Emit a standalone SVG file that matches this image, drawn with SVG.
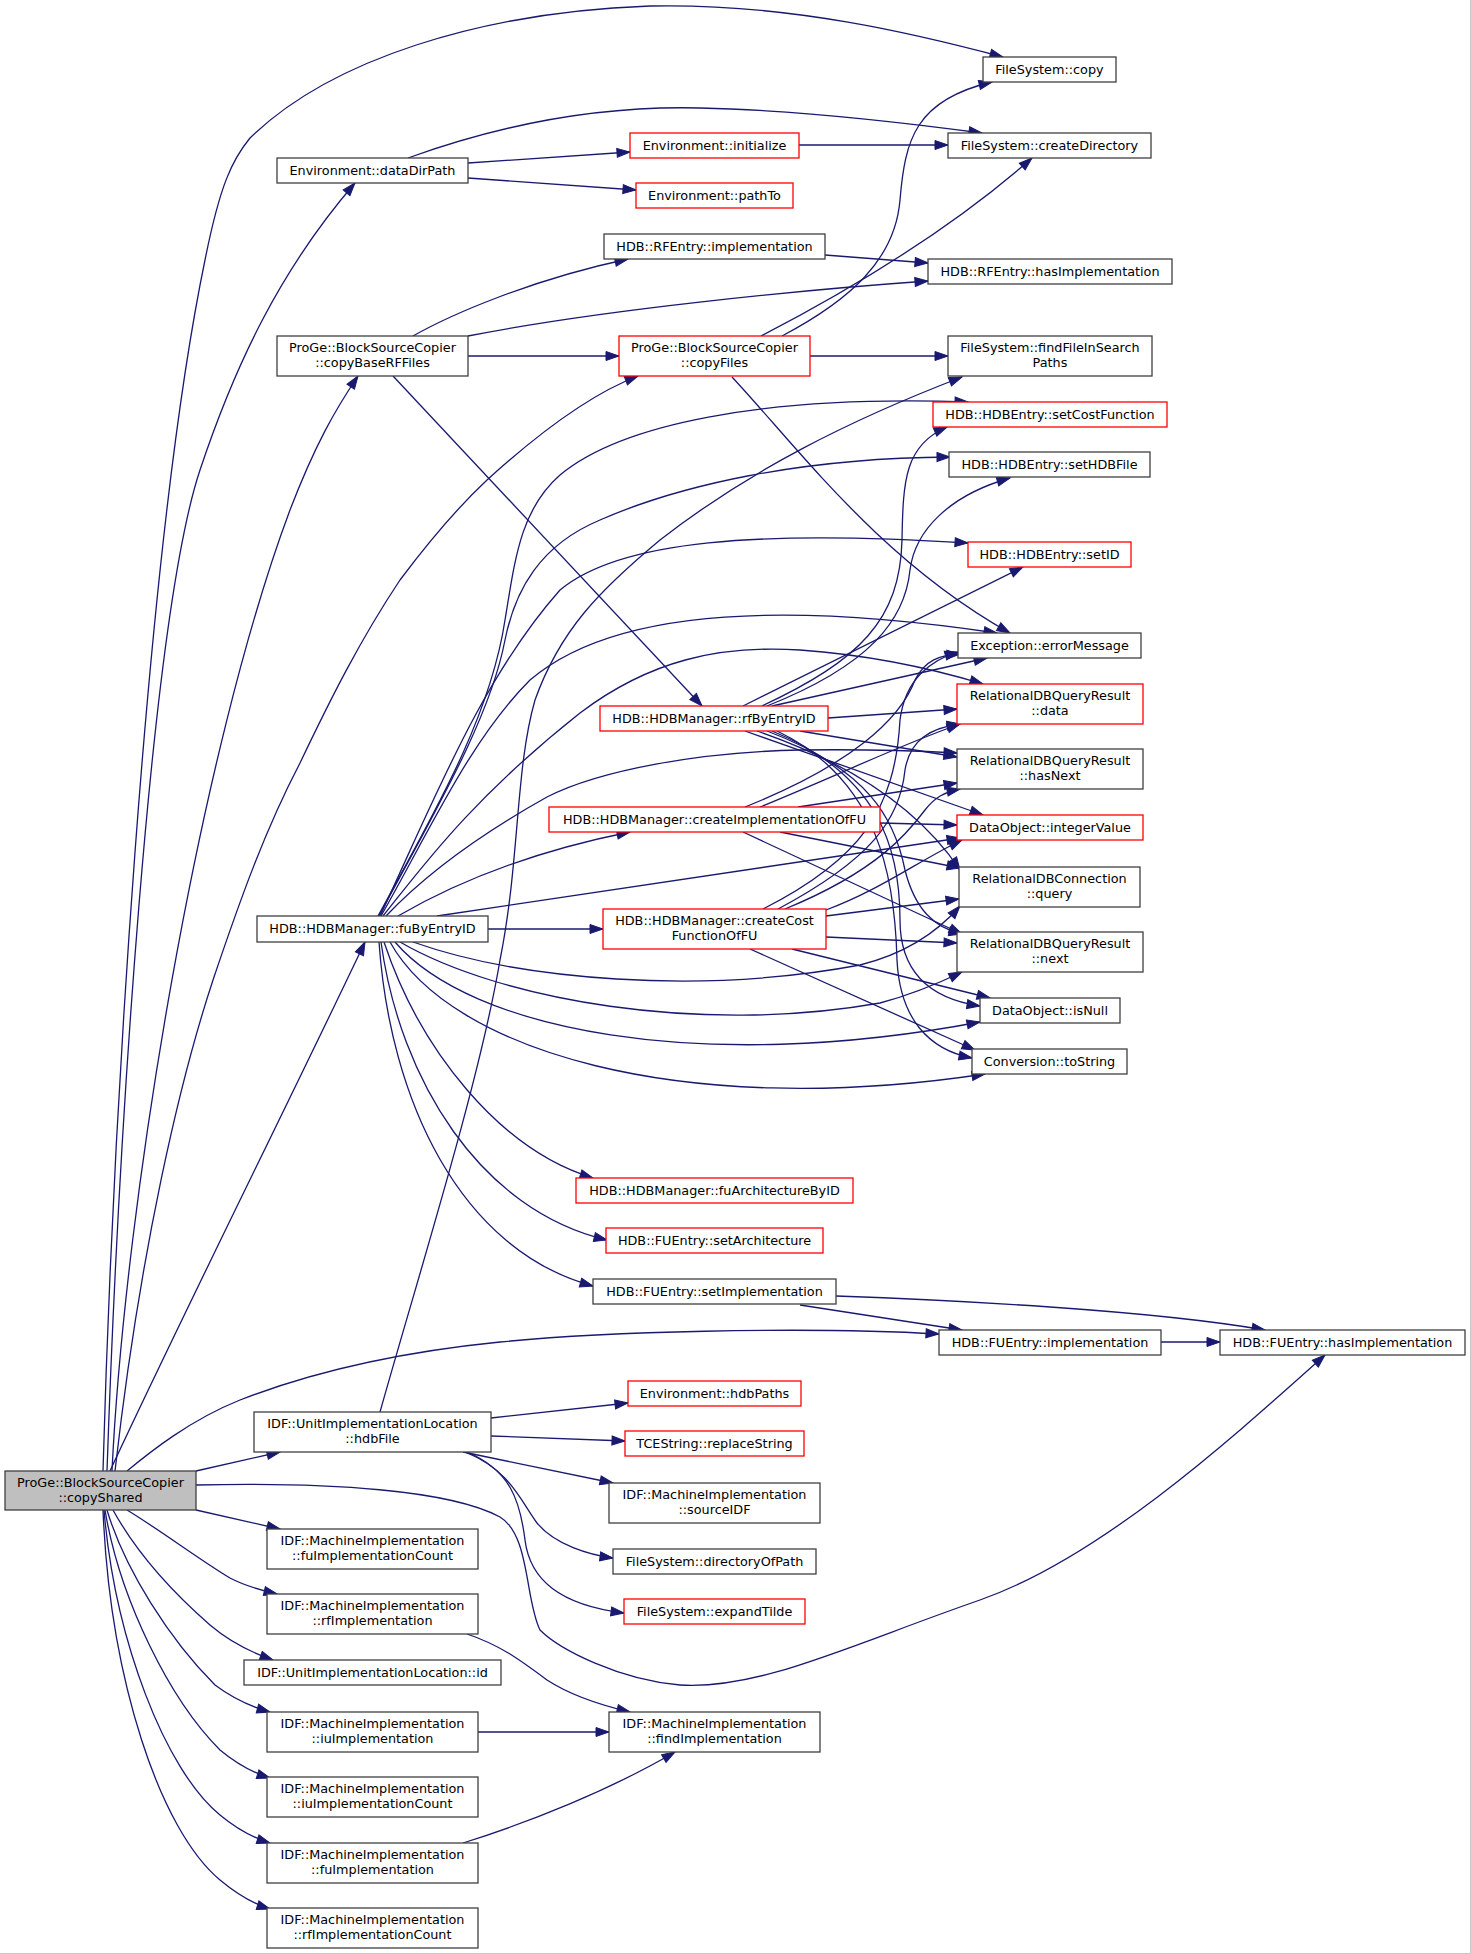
<svg xmlns="http://www.w3.org/2000/svg" width="1471" height="1954" viewBox="0 0 1471 1954">
<defs>
<marker id="a" markerUnits="userSpaceOnUse" markerWidth="15" markerHeight="11" refX="13" refY="5" orient="auto" overflow="visible">
<path d="M0,0.5 L13,5 L0,9.5 z" fill="#191970" stroke="#191970" stroke-width="1"/>
</marker>
<style>
.n rect{fill:#ffffff;stroke:#404040;stroke-width:1.3}
.r rect{fill:#ffffff;stroke:#ff0000;stroke-width:1.3}
.root rect{fill:#bfbfbf;stroke:#404040;stroke-width:1.3}
text{font-family:"DejaVu Sans","Liberation Sans",sans-serif;font-size:12.8px;fill:#000000;text-anchor:middle}
#edges path{fill:none;stroke:#191970;stroke-width:1.3;marker-end:url(#a)}
</style>
</defs>
<rect x="0" y="0" width="1471" height="1954" fill="#ffffff"/>
<line x1="1470.5" y1="0" x2="1470.5" y2="1954" stroke="#c8c8c8" stroke-width="1"/>
<line x1="0" y1="1953.5" x2="1471" y2="1953.5" stroke="#c8c8c8" stroke-width="1"/>
<g id="edges">
<path d="M103,1471 C112,1150 145,550 205,260 C220,185 232,160 250,138 C330,60 480,12 650,6 C790,3 920,35 1003,57"/>
<path d="M107,1471 C118,1150 150,620 200,470 C235,365 280,270 355,183"/>
<path d="M112,1471 C125,1200 200,750 290,510 C315,445 335,410 358,376"/>
<path d="M115,1471 C140,1250 180,1080 213,980 C240,900 265,830 300,763 C330,700 360,640 400,580 C430,540 455,510 487,480 C520,450 580,398 638,376"/>
<path d="M110,1471 C180,1320 290,1100 365,942"/>
<path d="M127,1471 C150,1452 190,1420 240,1400 C330,1365 420,1350 500,1342 C600,1332 800,1326 939,1334"/>
<path d="M196,1471 L280,1452"/>
<path d="M196,1485 C330,1482 450,1490 500,1517 C530,1535 525,1600 540,1630 C560,1650 620,1680 680,1685 C760,1690 850,1645 980,1600 C1100,1558 1230,1440 1325,1355"/>
<path d="M196,1510 L280,1529"/>
<path d="M127,1510 C160,1530 200,1560 230,1578 C245,1586 260,1590 277,1594"/>
<path d="M113,1510 C135,1550 170,1590 210,1625 C230,1642 250,1652 273,1660"/>
<path d="M107,1510 C125,1570 170,1640 215,1685 C235,1700 252,1707 270,1712"/>
<path d="M105,1510 C120,1600 170,1700 220,1750 C238,1765 254,1773 270,1778"/>
<path d="M104,1510 C115,1640 165,1770 220,1815 C238,1830 254,1838 270,1843"/>
<path d="M103,1510 C110,1680 160,1830 220,1880 C238,1895 254,1904 270,1909"/>
<path d="M408,158 C480,132 580,105 700,108 C800,110 900,122 982,133"/>
<path d="M468,163 L630,152"/>
<path d="M468,178 L636,190"/>
<path d="M799,145 L948,145"/>
<path d="M413,336 C450,315 530,280 628,259"/>
<path d="M468,336 C600,310 800,290 928,281"/>
<path d="M468,356 L619,356"/>
<path d="M393,376 L702,706"/>
<path d="M825,255 L928,263"/>
<path d="M782,336 C850,300 895,260 900,200 C905,140 915,100 992,82"/>
<path d="M761,336 C850,290 950,230 1032,158"/>
<path d="M810,356 L948,356"/>
<path d="M732,377 C800,450 880,560 1010,633"/>
<path d="M762,706 C860,660 900,620 902,540 C903,480 905,445 947,427"/>
<path d="M767,706 C870,665 905,620 910,570 C915,530 950,495 1010,478"/>
<path d="M743,706 L1023,567"/>
<path d="M772,706 L987,658"/>
<path d="M828,718 L957,709"/>
<path d="M800,731 L957,757"/>
<path d="M745,731 L983,815"/>
<path d="M757,731 C850,763 920,810 960,870"/>
<path d="M767,731 C870,770 895,820 905,870 C915,910 935,928 962,934"/>
<path d="M772,731 C880,775 900,850 900,920 C900,980 940,1000 980,1006"/>
<path d="M777,731 C880,780 895,880 897,960 C900,1020 930,1050 972,1058"/>
<path d="M378,916 C430,820 490,720 505,620 C515,560 520,510 560,475 C620,425 760,395 968,402"/>
<path d="M379,916 C430,820 490,720 505,640 C515,590 540,545 600,520 C680,485 800,458 950,457"/>
<path d="M380,916 C430,810 480,680 560,590 C620,540 760,530 968,543"/>
<path d="M381,916 C430,830 470,740 530,680 C600,620 740,595 997,633"/>
<path d="M383,916 C420,870 470,800 580,713 C650,660 720,645 800,650 C870,655 930,668 983,684"/>
<path d="M386,916 C420,880 470,840 547,797 C600,770 700,752 800,750 C870,749 920,751 957,753"/>
<path d="M437,916 L960,838"/>
<path d="M398,916 C460,880 540,850 630,832"/>
<path d="M488,929 L603,929"/>
<path d="M413,942 C520,980 700,995 860,965 C900,955 935,935 960,906"/>
<path d="M400,942 C500,1000 700,1035 880,1003 C910,995 935,985 962,972"/>
<path d="M395,942 C470,1030 700,1075 980,1022"/>
<path d="M390,942 C450,1050 680,1120 985,1074"/>
<path d="M384,942 C420,1050 500,1150 593,1178"/>
<path d="M381,942 C400,1080 480,1210 607,1240"/>
<path d="M379,942 C390,1100 460,1250 593,1286"/>
<path d="M745,807 C850,765 900,720 915,680 C925,660 940,655 960,654"/>
<path d="M760,807 C850,770 900,745 960,724"/>
<path d="M798,807 L957,783"/>
<path d="M880,823 L957,825"/>
<path d="M780,832 L960,868"/>
<path d="M743,832 L962,934"/>
<path d="M763,909 C860,860 895,810 900,720 C905,680 930,660 958,652"/>
<path d="M778,909 C870,860 900,820 905,770 C910,740 930,728 960,724"/>
<path d="M785,909 C880,870 910,830 925,810 C935,797 945,792 960,789"/>
<path d="M826,910 C880,890 920,860 962,840"/>
<path d="M826,916 L959,899"/>
<path d="M826,937 L957,943"/>
<path d="M792,949 L990,998"/>
<path d="M750,949 L975,1050"/>
<path d="M380,1412 C420,1270 480,1080 500,960 C520,860 515,770 535,700 C560,630 600,590 660,540 C750,470 850,420 962,377"/>
<path d="M491,1418 L628,1403"/>
<path d="M491,1436 L625,1441"/>
<path d="M463,1452 L613,1483"/>
<path d="M465,1452 C510,1470 520,1500 537,1523 C555,1545 590,1555 613,1558"/>
<path d="M467,1452 C510,1470 520,1500 525,1540 C530,1580 560,1605 624,1613"/>
<path d="M800,1305 L962,1330"/>
<path d="M836,1296 C950,1300 1150,1310 1265,1330"/>
<path d="M1161,1342 L1220,1342"/>
<path d="M467,1634 C500,1645 520,1660 547,1680 C570,1695 600,1705 630,1712"/>
<path d="M478,1732 L609,1732"/>
<path d="M463,1843 C530,1822 610,1790 675,1752"/>
</g>
<g id="n_copyShared" class="root"><rect x="5" y="1471" width="191" height="39"/><text x="100.5" y="1487.3">ProGe::BlockSourceCopier</text><text x="100.5" y="1501.7">::copyShared</text></g>
<g id="n_copy" class="n"><rect x="983" y="57" width="133" height="25"/><text x="1049.5" y="73.5">FileSystem::copy</text></g>
<g id="n_dataDirPath" class="n"><rect x="277" y="158" width="191" height="25"/><text x="372.5" y="174.5">Environment::dataDirPath</text></g>
<g id="n_createDirectory" class="n"><rect x="948" y="133" width="203" height="25"/><text x="1049.5" y="149.5">FileSystem::createDirectory</text></g>
<g id="n_initialize" class="r"><rect x="630" y="133" width="169" height="25"/><text x="714.5" y="149.5">Environment::initialize</text></g>
<g id="n_pathTo" class="r"><rect x="636" y="183" width="157" height="25"/><text x="714.5" y="199.5">Environment::pathTo</text></g>
<g id="n_rfImpl" class="n"><rect x="604" y="234" width="221" height="25"/><text x="714.5" y="250.5">HDB::RFEntry::implementation</text></g>
<g id="n_rfHasImpl" class="n"><rect x="928" y="259" width="244" height="25"/><text x="1050" y="275.5">HDB::RFEntry::hasImplementation</text></g>
<g id="n_copyBaseRF" class="n"><rect x="277" y="336" width="191" height="40"/><text x="372.5" y="352.3">ProGe::BlockSourceCopier</text><text x="372.5" y="366.7">::copyBaseRFFiles</text></g>
<g id="n_copyFiles" class="r"><rect x="619" y="336" width="191" height="40"/><text x="714.5" y="352.3">ProGe::BlockSourceCopier</text><text x="714.5" y="366.7">::copyFiles</text></g>
<g id="n_findFile" class="n"><rect x="948" y="336" width="204" height="40"/><text x="1050" y="352.3">FileSystem::findFileInSearch</text><text x="1050" y="366.7">Paths</text></g>
<g id="n_setCost" class="r"><rect x="933" y="402" width="234" height="25"/><text x="1050" y="418.5">HDB::HDBEntry::setCostFunction</text></g>
<g id="n_setHDBFile" class="n"><rect x="949" y="452" width="201" height="25"/><text x="1049.5" y="468.5">HDB::HDBEntry::setHDBFile</text></g>
<g id="n_setID" class="r"><rect x="968" y="542" width="163" height="25"/><text x="1049.5" y="558.5">HDB::HDBEntry::setID</text></g>
<g id="n_errorMsg" class="n"><rect x="958" y="633" width="183" height="25"/><text x="1049.5" y="649.5">Exception::errorMessage</text></g>
<g id="n_data" class="r"><rect x="957" y="684" width="186" height="40"/><text x="1050" y="700.3">RelationalDBQueryResult</text><text x="1050" y="714.7">::data</text></g>
<g id="n_hasNext" class="n"><rect x="957" y="749" width="186" height="40"/><text x="1050" y="765.3">RelationalDBQueryResult</text><text x="1050" y="779.7">::hasNext</text></g>
<g id="n_intVal" class="r"><rect x="957" y="815" width="186" height="25"/><text x="1050" y="831.5">DataObject::integerValue</text></g>
<g id="n_query" class="n"><rect x="959" y="867" width="181" height="40"/><text x="1049.5" y="883.3">RelationalDBConnection</text><text x="1049.5" y="897.7">::query</text></g>
<g id="n_next" class="n"><rect x="957" y="932" width="186" height="40"/><text x="1050" y="948.3">RelationalDBQueryResult</text><text x="1050" y="962.7">::next</text></g>
<g id="n_isNull" class="n"><rect x="980" y="998" width="140" height="25"/><text x="1050" y="1014.5">DataObject::isNull</text></g>
<g id="n_toString" class="n"><rect x="972" y="1049" width="155" height="25"/><text x="1049.5" y="1065.5">Conversion::toString</text></g>
<g id="n_rfByEntry" class="r"><rect x="600" y="706" width="228" height="25"/><text x="714" y="722.5">HDB::HDBManager::rfByEntryID</text></g>
<g id="n_createImpl" class="r"><rect x="549" y="807" width="331" height="25"/><text x="714.5" y="823.5">HDB::HDBManager::createImplementationOfFU</text></g>
<g id="n_createCost" class="r"><rect x="603" y="909" width="223" height="40"/><text x="714.5" y="925.3">HDB::HDBManager::createCost</text><text x="714.5" y="939.7">FunctionOfFU</text></g>
<g id="n_fuByEntry" class="n"><rect x="257" y="916" width="231" height="26"/><text x="372.5" y="933">HDB::HDBManager::fuByEntryID</text></g>
<g id="n_fuArch" class="r"><rect x="576" y="1178" width="277" height="25"/><text x="714.5" y="1194.5">HDB::HDBManager::fuArchitectureByID</text></g>
<g id="n_setArch" class="r"><rect x="606" y="1228" width="217" height="25"/><text x="714.5" y="1244.5">HDB::FUEntry::setArchitecture</text></g>
<g id="n_setImpl" class="n"><rect x="593" y="1279" width="243" height="25"/><text x="714.5" y="1295.5">HDB::FUEntry::setImplementation</text></g>
<g id="n_fuImpl" class="n"><rect x="939" y="1330" width="222" height="25"/><text x="1050" y="1346.5">HDB::FUEntry::implementation</text></g>
<g id="n_fuHasImpl" class="n"><rect x="1220" y="1330" width="245" height="25"/><text x="1342.5" y="1346.5">HDB::FUEntry::hasImplementation</text></g>
<g id="n_hdbFile" class="n"><rect x="254" y="1412" width="237" height="40"/><text x="372.5" y="1428.3">IDF::UnitImplementationLocation</text><text x="372.5" y="1442.7">::hdbFile</text></g>
<g id="n_hdbPaths" class="r"><rect x="628" y="1381" width="173" height="25"/><text x="714.5" y="1397.5">Environment::hdbPaths</text></g>
<g id="n_replace" class="r"><rect x="625" y="1431" width="179" height="25"/><text x="714.5" y="1447.5">TCEString::replaceString</text></g>
<g id="n_sourceIDF" class="n"><rect x="609" y="1483" width="211" height="40"/><text x="714.5" y="1499.3">IDF::MachineImplementation</text><text x="714.5" y="1513.7">::sourceIDF</text></g>
<g id="n_dirOfPath" class="n"><rect x="613" y="1549" width="203" height="25"/><text x="714.5" y="1565.5">FileSystem::directoryOfPath</text></g>
<g id="n_expandTilde" class="r"><rect x="624" y="1599" width="181" height="25"/><text x="714.5" y="1615.5">FileSystem::expandTilde</text></g>
<g id="n_fuImplCount" class="n"><rect x="267" y="1529" width="211" height="40"/><text x="372.5" y="1545.3">IDF::MachineImplementation</text><text x="372.5" y="1559.7">::fuImplementationCount</text></g>
<g id="n_rfImplementation" class="n"><rect x="267" y="1594" width="211" height="40"/><text x="372.5" y="1610.3">IDF::MachineImplementation</text><text x="372.5" y="1624.7">::rfImplementation</text></g>
<g id="n_uilId" class="n"><rect x="244" y="1660" width="257" height="25"/><text x="372.5" y="1676.5">IDF::UnitImplementationLocation::id</text></g>
<g id="n_iuImpl" class="n"><rect x="267" y="1712" width="211" height="40"/><text x="372.5" y="1728.3">IDF::MachineImplementation</text><text x="372.5" y="1742.7">::iuImplementation</text></g>
<g id="n_findImpl" class="n"><rect x="609" y="1712" width="211" height="40"/><text x="714.5" y="1728.3">IDF::MachineImplementation</text><text x="714.5" y="1742.7">::findImplementation</text></g>
<g id="n_iuImplCount" class="n"><rect x="267" y="1777" width="211" height="40"/><text x="372.5" y="1793.3">IDF::MachineImplementation</text><text x="372.5" y="1807.7">::iuImplementationCount</text></g>
<g id="n_fuImplementation" class="n"><rect x="267" y="1843" width="211" height="40"/><text x="372.5" y="1859.3">IDF::MachineImplementation</text><text x="372.5" y="1873.7">::fuImplementation</text></g>
<g id="n_rfImplCount" class="n"><rect x="267" y="1908" width="211" height="40"/><text x="372.5" y="1924.3">IDF::MachineImplementation</text><text x="372.5" y="1938.7">::rfImplementationCount</text></g>
</svg>
